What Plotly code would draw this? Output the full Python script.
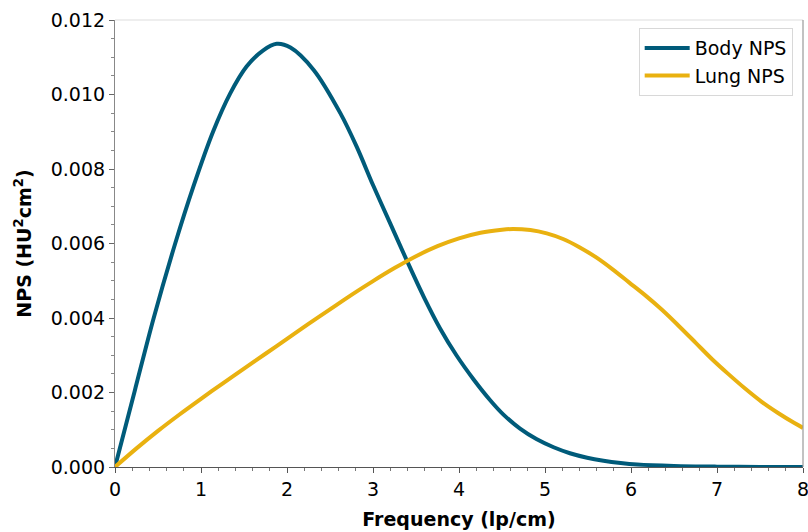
import plotly.graph_objects as go

# Body NPS curve
body_freq = [0.0, 0.23, 0.45, 0.70, 0.91, 1.14, 1.34, 1.53, 1.72, 1.88, 2.04, 2.31,
             2.62, 2.81, 3.00, 3.20, 3.39, 3.59, 3.78, 3.97, 4.17, 4.36, 4.52, 4.71,
             4.90, 5.10, 5.29, 5.49, 5.68, 5.88, 6.07, 6.5, 7.0, 7.5, 8.0]
body_nps = [0.0, 0.00205, 0.00400, 0.00600, 0.00752, 0.00900, 0.01003, 0.01075, 0.01118,
            0.01136, 0.01126, 0.01066, 0.00950, 0.00860, 0.00757, 0.00654, 0.00556,
            0.00457, 0.00372, 0.00300, 0.00235, 0.00180, 0.00140, 0.00103, 0.00075,
            0.00053, 0.00037, 0.00025, 0.00017, 0.00011, 0.00007, 0.00003, 0.00001,
            0.0, 0.0]

# Lung NPS curve
lung_freq = [0.0, 0.25, 0.5, 0.75, 1.0, 1.25, 1.5, 1.75, 2.0, 2.25, 2.5, 2.75, 3.0,
             3.25, 3.5, 3.75, 4.0, 4.25, 4.5, 4.63, 4.83, 5.02, 5.21, 5.40, 5.60, 5.79,
             5.98, 6.17, 6.36, 6.55, 6.75, 6.94, 7.13, 7.33, 7.52, 7.71, 7.90, 8.0]
lung_nps = [0.0, 0.00050, 0.00097, 0.00141, 0.00183, 0.00224, 0.00264, 0.00304, 0.00344,
            0.00384, 0.00423, 0.00462, 0.00499, 0.00534, 0.00566, 0.00593, 0.00614,
            0.00629, 0.00637, 0.00639, 0.00636, 0.00627, 0.00612, 0.00590, 0.00562,
            0.00530, 0.00495, 0.00460, 0.00422, 0.00380, 0.00334, 0.00290, 0.00250,
            0.00210, 0.00175, 0.00145, 0.00118, 0.00105]

series_names = ["Body NPS", "Lung NPS"]
colors = ["#005b7a", "#e9b110"]

x_ticks = [0, 1, 2, 3, 4, 5, 6, 7, 8]
y_ticks = [0.0, 0.002, 0.004, 0.006, 0.008, 0.010, 0.012]

font = "DejaVu Sans"

fig = go.Figure()
fig.add_trace(go.Scatter(x=body_freq, y=body_nps, mode="lines", name=series_names[0],
                         line=dict(color=colors[0], width=4, shape="spline", smoothing=0.9)))
fig.add_trace(go.Scatter(x=lung_freq, y=lung_nps, mode="lines", name=series_names[1],
                         line=dict(color=colors[1], width=4, shape="spline", smoothing=0.9)))

fig.update_layout(
    width=808, height=532,
    margin=dict(l=115, r=5, t=20, b=65),
    paper_bgcolor="white", plot_bgcolor="white",
    font=dict(family=font, size=19, color="black"),
    showlegend=True,
    legend=dict(x=0.985, y=0.982, xanchor="right", yanchor="top",
                bgcolor="rgba(255,255,255,0.8)", bordercolor="#d8d8d8", borderwidth=1,
                font=dict(family=font, size=19), itemwidth=45),
    xaxis=dict(
        range=[0, 8], tickvals=x_ticks, ticktext=[str(v) for v in x_ticks],
        automargin=False, ticklabeloverflow="allow",
        showgrid=False, zeroline=False, showline=True, linecolor="#555555", linewidth=1.2,
        ticks="outside", ticklen=5, tickwidth=1, tickcolor="#555555",
        minor=dict(dtick=0.2, ticks="outside", ticklen=2.5, tickcolor="#777777", showgrid=False),
        title=dict(text="Frequency (lp/cm)", font=dict(family=font, size=19, weight="bold"), standoff=13),
        tickfont=dict(size=19),
    ),
    yaxis=dict(
        range=[0, 0.012], tickvals=y_ticks, ticktext=["%.3f" % v for v in y_ticks],
        automargin=False, ticklabeloverflow="allow",
        showgrid=False, zeroline=False, showline=True, linecolor="#888888", linewidth=1.2,
        ticks="outside", ticklen=5, tickwidth=1, tickcolor="#666666",
        minor=dict(dtick=0.0005, ticks="outside", ticklen=2.5, tickcolor="#888888", showgrid=False),
        title=dict(text="NPS (HU<sup>2</sup>cm<sup>2</sup>)", font=dict(family=font, size=19, weight="bold"), standoff=14),
        tickfont=dict(size=19),
    ),
    shapes=[
        dict(type="line", xref="paper", yref="paper", x0=0, x1=1, y0=1, y1=1,
             line=dict(color="#dddddd", width=1.2)),
        dict(type="line", xref="paper", yref="paper", x0=1, x1=1, y0=0, y1=1,
             line=dict(color="#999999", width=1.2)),
    ],
)

fig.write_html("out.html")
